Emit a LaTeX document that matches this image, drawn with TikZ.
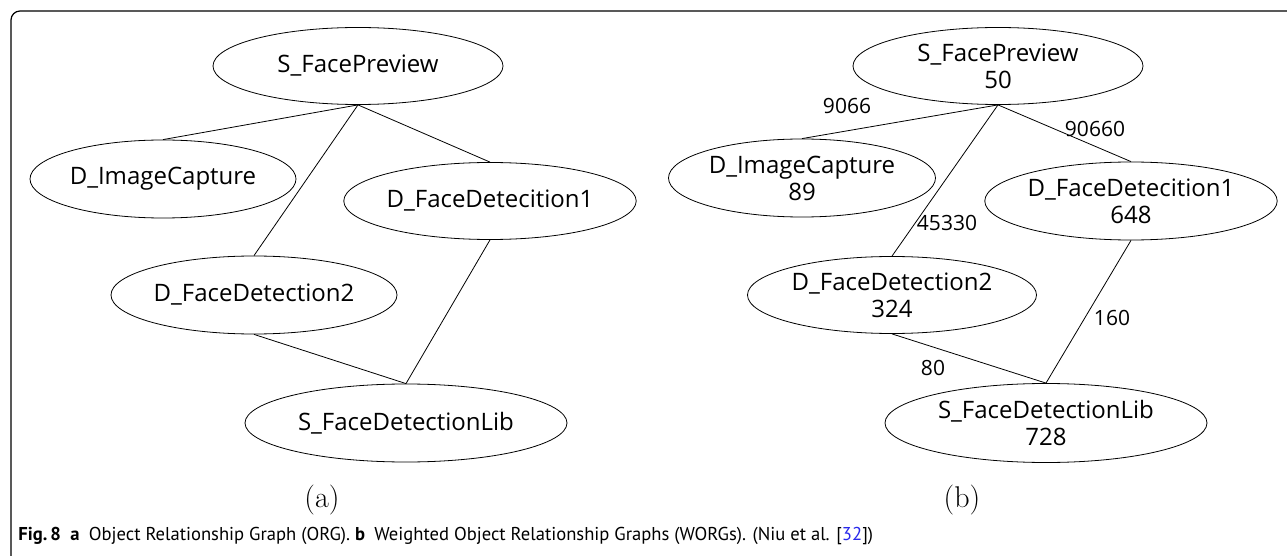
\documentclass[tikz,border=0pt]{standalone}
\usepackage{fontspec}
\newfontfamily\nodefont{Open Sans}
\newfontfamily\captionfont{PT Sans}
\usetikzlibrary{shapes.geometric}
\definecolor{citeblue}{RGB}{40,40,235}

\begin{document}
\begin{tikzpicture}[
    x=0.5pt, y=-0.5pt,
    obj/.style={ellipse, draw, thin, inner sep=0pt, align=center, font=\nodefont\fontsize{12}{13.5}\selectfont},
    wlabel/.style={inner sep=0pt, font=\nodefont\fontsize{10.5}{12}\selectfont},
    sub/.style={inner sep=0pt, font=\fontsize{15}{18}\selectfont},
    rel/.style={thin}
]
    \useasboundingbox (0,0) rectangle (1287,556);
    % Frame
    \draw [line width=0.6pt, rounded corners=4.5pt] (11,556) -- (11,11) -- (1287,11);

    % (a) Object relationship graph
    \node [obj, minimum width=145pt, minimum height=38.5pt] (aprev) at (358,66) {S\_FacePreview};
    \node [obj, minimum width=133pt, minimum height=39pt] (aimg) at (163,179) {D\_ImageCapture};
    \node [obj, minimum width=143pt, minimum height=38.5pt] (adet1) at (490,201) {D\_FaceDetecition1};
    \node [obj, minimum width=143pt, minimum height=39pt] (adet2) at (254,295) {D\_FaceDetection2};
    \node [obj, minimum width=161pt, minimum height=39pt] (alib) at (406,423) {S\_FaceDetectionLib};

    \draw [rel] (aprev.south) -- (aimg.north);
    \draw [rel] (aprev.south) -- (adet1.north);
    \draw [rel] (aprev.south) -- (adet2.north);
    \draw [rel] (adet1.south) -- (alib.north);
    \draw [rel] (adet2.south) -- (alib.north);

    % (b) Weighted object relationship graph
    \node [obj, minimum width=145pt, minimum height=38.5pt] (bprev) at (998,66) {S\_FacePreview\\50};
    \node [obj, minimum width=133.5pt, minimum height=39pt] (bimg) at (802,178) {D\_ImageCapture\\89};
    \node [obj, minimum width=145pt, minimum height=39pt] (bdet1) at (1131,201) {D\_FaceDetecition1\\648};
    \node [obj, minimum width=144.5pt, minimum height=38.5pt] (bdet2) at (892,295) {D\_FaceDetection2\\324};
    \node [obj, minimum width=161pt, minimum height=39.5pt] (blib) at (1046,423) {S\_FaceDetectionLib\\728};

    \draw [rel] (bprev.south) -- (bimg.north);
    \draw [rel] (bprev.south) -- (bdet1.north);
    \draw [rel] (bprev.south) -- (bdet2.north);
    \draw [rel] (bdet1.south) -- (blib.north);
    \draw [rel] (bdet2.south) -- (blib.north);

    % Weights
    \node [wlabel] (w9066) at (847,106) {9066};
    \node [wlabel] (w90660) at (1095,129) {90660};
    \node [wlabel] (w45330) at (947,223) {45330};
    \node [wlabel] (w160) at (1112,318) {160};
    \node [wlabel] (w80) at (933,368) {80};

    % Sub-captions
    \node [sub] (suba) at (322,500) {(a)};
    \node [sub] (subb) at (962,500) {(b)};

    % Caption
    \node [anchor=base west, inner sep=0pt, font=\captionfont\fontsize{9.3}{11}\selectfont] (caption) at (18,540)
        {\textbf{Fig.\,8}\enspace\textbf{a}\enspace Object Relationship Graph (ORG). \textbf{b}\enspace Weighted Object Relationship Graphs (WORGs). (Niu et al. [{\color{citeblue}32}])};
\end{tikzpicture}
\end{document}
